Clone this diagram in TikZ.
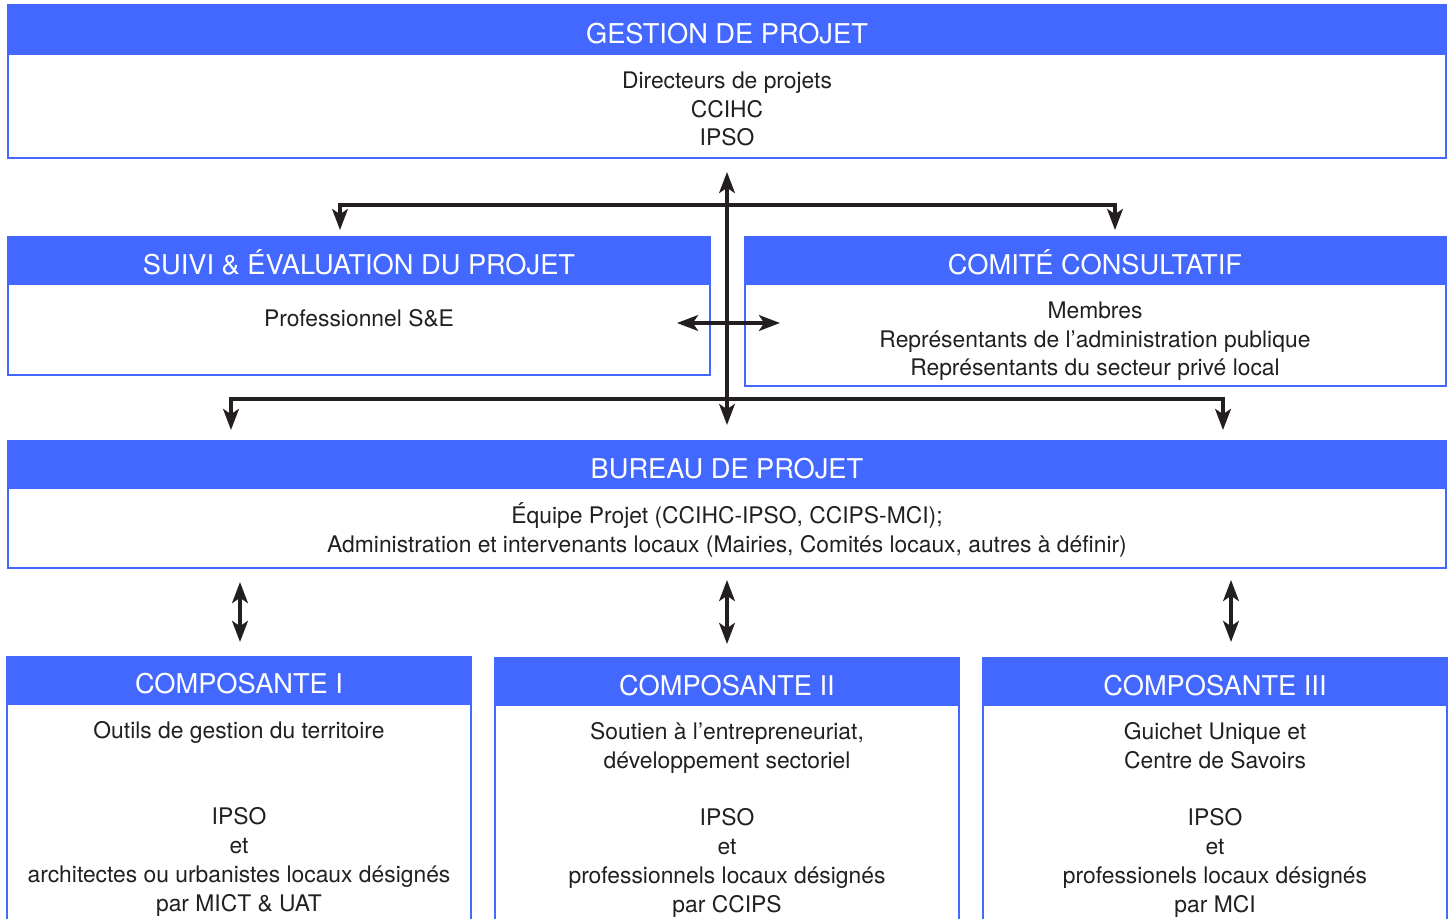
\documentclass[tikz,border=0pt]{standalone}
\usepackage{fontspec}
\setmainfont{TeX Gyre Heros}
\usetikzlibrary{arrows.meta}
\definecolor{bandeBleue}{RGB}{66,104,255}
\definecolor{traitNoir}{RGB}{35,31,32}

\begin{document}
\begin{tikzpicture}[x={(0.02cm,0cm)}, y={(0cm,-0.02cm)},
  bande/.style={fill=bandeBleue},
  cadre/.style={draw=bandeBleue, line width=0.8pt},
  titre/.style={text=white, font=\fontsize{15.5}{19}\selectfont, inner sep=0pt, text height=11.2pt, text depth=0pt},
  corps/.style={text=traitNoir, font=\fontsize{13}{16.4}\selectfont, align=center, inner sep=0pt,
    execute at begin node=\strut, execute at end node=\strut},
  fleche/.style={draw=traitNoir, line width=1.8pt,
    {Stealth[length=12pt,width=9pt,inset=3pt]}-{Stealth[length=12pt,width=9pt,inset=3pt]}}]

 \useasboundingbox (0,0) rectangle (1450,919);
 \clip (0,0) rectangle (1450,919);

 %%%%%%%%%% Points pour les fleches %%%%%%%%%%
 \coordinate (gHaut) at (727,172);
 \coordinate (bBas) at (727,425);
 \coordinate (busHaut) at (727,205);
 \coordinate (sHaut) at (340,230);
 \coordinate (cHaut) at (1115,230);
 \coordinate (busBas) at (727,399);
 \coordinate (bGauche) at (231,430);
 \coordinate (bDroite) at (1223,430);
 \coordinate (sDroite) at (677,323);
 \coordinate (cGauche) at (780,323);
 \coordinate (p1Haut) at (240,582);
 \coordinate (p1Bas) at (240,642);
 \coordinate (p2Haut) at (727,580);
 \coordinate (p2Bas) at (727,644);
 \coordinate (p3Haut) at (1231,580);
 \coordinate (p3Bas) at (1231,642);

 %%%%%%%%%% Bandes bleues %%%%%%%%%%
 \fill [bande] (8,5) rectangle (1446,55);
 \fill [bande] (8,237) rectangle (710,285);
 \fill [bande] (745,237) rectangle (1446,285);
 \fill [bande] (8,441) rectangle (1446,489);
 \fill [bande] (7,657) rectangle (471,705);
 \fill [bande] (495,658) rectangle (959,706);
 \fill [bande] (983,658) rectangle (1447,706);

 % Cadres
 \draw [cadre] (8,5) rectangle (1446,158);
 \draw [cadre] (8,237) rectangle (710,375);
 \draw [cadre] (745,237) rectangle (1446,386);
 \draw [cadre] (8,441) rectangle (1446,568);
 \draw [cadre] (7,657) rectangle (471,940);
 \draw [cadre] (495,658) rectangle (959,940);
 \draw [cadre] (983,658) rectangle (1447,940);

 %%%%%%%%%% Titres %%%%%%%%%%
 \node [titre] (gestion) at (727,34) {GESTION DE PROJET};
 \node [titre] (suivi) at (359,265) {SUIVI \& ÉVALUATION DU PROJET};
 \node [titre] (comite) at (1095,265) {COMITÉ CONSULTATIF};
 \node [titre] (bureau) at (727,469) {BUREAU DE PROJET};
 \node [titre] (compUn) at (239,684) {COMPOSANTE I};
 \node [titre] (compDeux) at (727,686) {COMPOSANTE II};
 \node [titre] (compTrois) at (1215,686) {COMPOSANTE III};

 %%%%%%%%%% Textes %%%%%%%%%%
 \node [corps] (gestionTxt) at (727,113) {Directeurs de projets\\CCIHC\\IPSO};
 \node [corps] (suiviTxt) at (359,321) {Professionnel S\&E};
 \node [corps] (comiteTxt) at (1095,343) {Membres\\Représentants de l’administration publique\\Représentants du secteur privé local};
 \node [corps] (bureauTxt) at (727,532) {Équipe Projet (CCIHC-IPSO, CCIPS-MCI);\\Administration et intervenants locaux (Mairies, Comités locaux, autres à définir)};
 \node [corps] (compUnTxt) at (239,820.5) {Outils de gestion du territoire\\[2\baselineskip]IPSO\\et\\architectes ou urbanistes locaux désignés\\par MICT \& UAT};
 \node [corps] (compDeuxTxt) at (727,821.5) {Soutien à l’entrepreneuriat,\\développement sectoriel\\[\baselineskip]IPSO\\et\\professionnels locaux désignés\\par CCIPS};
 \node [corps] (compTroisTxt) at (1215,821.5) {Guichet Unique et\\Centre de Savoirs\\[\baselineskip]IPSO\\et\\professionels locaux désignés\\par MCI};

 %%%%%%%%%%% Fleches %%%%%%%%%%%
 \draw [fleche] (bBas) -- (gHaut);
 \draw [fleche] (sHaut) |- (busHaut) -| (cHaut);
 \draw [fleche] (bGauche) |- (busBas) -| (bDroite);
 \draw [fleche] (sDroite) -- (cGauche);
 \draw [fleche] (p1Haut) -- (p1Bas);
 \draw [fleche] (p2Haut) -- (p2Bas);
 \draw [fleche] (p3Haut) -- (p3Bas);

\end{tikzpicture}
\end{document}
